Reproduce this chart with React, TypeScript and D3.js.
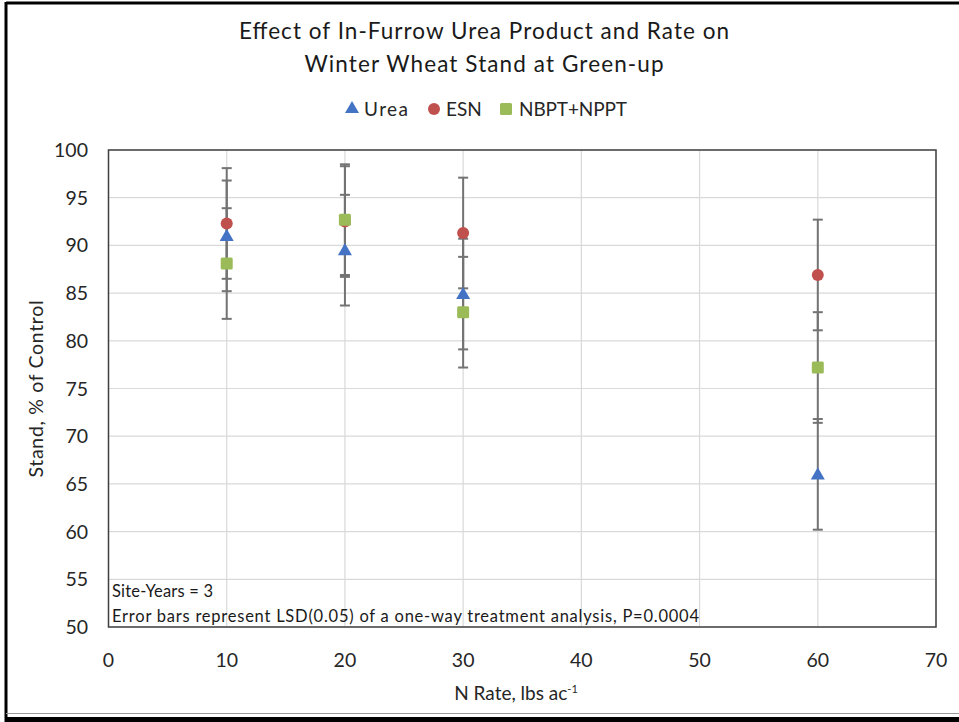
import React from "react";
import * as d3 from "d3";

// N rate (lbs ac-1)
const rates = [10, 20, 30, 60];
// stand, % of control
const urea = [91.0, 89.5, 84.9, 66.0];
const esn = [92.3, 92.5, 91.3, 86.9];
const nbpt = [88.1, 92.7, 83.0, 77.2];
// LSD(0.05), same for every point
const lsd = 5.8;

const xTicks = [0, 10, 20, 30, 40, 50, 60, 70];
const yTicks = [50, 55, 60, 65, 70, 75, 80, 85, 90, 95, 100];

const series = [
    { name: "Urea", values: urea, color: "#4472C4", shape: "triangle" },
    { name: "ESN", values: esn, color: "#C0504D", shape: "circle" },
    { name: "NBPT+NPPT", values: nbpt, color: "#9BBB59", shape: "square" },
];

const font = "Lato, 'Open Sans', sans-serif";

const W = 959;
const H = 722;
const left = 108.5;
const right = 936;
const top = 150;
const bottom = 627;

const Marker = ({ shape, color, x, y }) => {
    if (shape === "circle") return <circle cx={x} cy={y} r={6} fill={color} />;
    if (shape === "square")
        return <rect x={x - 6} y={y - 6} width={12} height={12} rx={1.5} fill={color} />;
    const tri = d3.symbol().type(d3.symbolTriangle).size(85)();
    return <path d={tri} transform={`translate(${x},${y + 1})`} fill={color} />;
};

const App = () => {
    const x = d3.scaleLinear().domain([0, 70]).range([left, right]);
    const y = d3.scaleLinear().domain([50, 100]).range([bottom, top]);

    return (
        <svg
            width={W}
            height={H}
            style={{ position: "absolute", left: 0, top: 0, background: "#fff" }}
            fontFamily={font}
        >
            <rect x={0} y={0} width={W} height={H} fill="#fff" />
            {/* outer frame */}
            <line x1={6} x2={6} y1={2} y2={H} stroke="#000" strokeWidth={3} />
            <line x1={6} x2={W} y1={3} y2={3} stroke="#000" strokeWidth={3} />
            <line x1={6} x2={W} y1={713.5} y2={713.5} stroke="#999" strokeWidth={1} />
            <line x1={6} x2={W} y1={719.5} y2={719.5} stroke="#000" strokeWidth={5} />

            {/* title */}
            <text x={484} y={39} textAnchor="middle" fontSize={22.5} fill="#1a1a1a" textLength={490} lengthAdjust="spacing">
                Effect of In-Furrow Urea Product and Rate on
            </text>
            <text x={484} y={72} textAnchor="middle" fontSize={22.5} fill="#1a1a1a" textLength={359} lengthAdjust="spacing">
                Winter Wheat Stand at Green-up
            </text>

            {/* legend */}
            <g fontSize={19} fill="#262626">
                <Marker shape="triangle" color="#4472C4" x={352} y={108} />
                <text x={364} y={116} textLength={44} lengthAdjust="spacing">Urea</text>
                <Marker shape="circle" color="#C0504D" x={434} y={109} />
                <text x={446} y={116}>ESN</text>
                <Marker shape="square" color="#9BBB59" x={506} y={109} />
                <text x={519} y={116} textLength={108} lengthAdjust="spacing">NBPT+NPPT</text>
            </g>

            {/* grid */}
            {yTicks.map(t => (
                <line key={"gy" + t} x1={left} x2={right} y1={y(t)} y2={y(t)} stroke="#d9d9d9" strokeWidth={1.2} />
            ))}
            {xTicks.map(t => (
                <line key={"gx" + t} x1={x(t)} x2={x(t)} y1={top} y2={bottom} stroke="#d9d9d9" strokeWidth={1.2} />
            ))}

            {/* plot border */}
            <rect x={left} y={top} width={right - left} height={bottom - top} fill="none" stroke="#404040" strokeWidth={1.5} />

            {/* tick labels */}
            <g fontSize={19.5} fill="#262626">
                {yTicks.map(t => (
                    <text key={"ty" + t} x={88} y={y(t) + 7} textAnchor="end">{t}</text>
                ))}
                {xTicks.map(t => (
                    <text key={"tx" + t} x={x(t)} y={667} textAnchor="middle">{t}</text>
                ))}
            </g>

            {/* axis titles */}
            <text transform="translate(43,389) rotate(-90)" textAnchor="middle" fontSize={19.5} fill="#262626" textLength={177} lengthAdjust="spacing">
                Stand, % of Control
            </text>
            <text x={516} y={700} textAnchor="middle" fontSize={19} fill="#262626">
                N Rate, lbs ac<tspan fontSize={11} dy={-7}>-1</tspan>
            </text>

            {/* note */}
            <g fontSize={16.5} fill="#1a1a1a">
                <text x={112} y={597} textLength={101} lengthAdjust="spacing">Site-Years = 3</text>
                <text x={112} y={622} textLength={587} lengthAdjust="spacing">Error bars represent LSD(0.05) of a one-way treatment analysis, P=0.0004</text>
            </g>

            {/* error bars */}
            {series.map(s =>
                s.values.map((v, i) => (
                    <g key={s.name + "e" + i} stroke="#737373" strokeWidth={2}>
                        <line x1={x(rates[i])} x2={x(rates[i])} y1={y(v + lsd)} y2={y(v - lsd)} />
                        <line x1={x(rates[i]) - 5} x2={x(rates[i]) + 5} y1={y(v + lsd)} y2={y(v + lsd)} />
                        <line x1={x(rates[i]) - 5} x2={x(rates[i]) + 5} y1={y(v - lsd)} y2={y(v - lsd)} />
                    </g>
                ))
            )}

            {/* markers */}
            {series.map(s =>
                s.values.map((v, i) => (
                    <Marker key={s.name + "m" + i} shape={s.shape} color={s.color} x={x(rates[i])} y={y(v)} />
                ))
            )}
        </svg>
    );
};

export default App;
